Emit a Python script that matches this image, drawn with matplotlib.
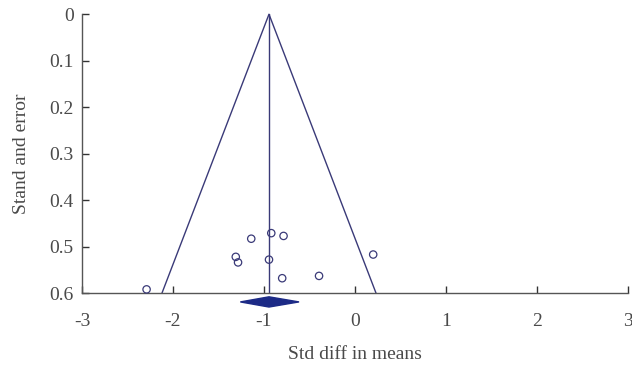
import matplotlib
matplotlib.use("Agg")
import matplotlib.pyplot as plt
from matplotlib.patches import Polygon

# --- data ---
pooled_est = -0.945          # overall std diff in means
pooled_ci = (-1.26, -0.615)  # diamond extent
se_max = 0.6

study_diff = [-2.29, -1.14, -0.92, -0.785, -1.31, -1.285, -0.945, -0.80, -0.395, 0.20]
study_se = [0.592, 0.483, 0.471, 0.477, 0.522, 0.534, 0.528, 0.568, 0.563, 0.517]

x_ticks = [-3, -2, -1, 0, 1, 2, 3]
y_ticks = [0, 0.1, 0.2, 0.3, 0.4, 0.5, 0.6]
y_ticklabels = ["0", "0.1", "0.2", "0.3", "0.4", "0.5", "0.6"]

LINE = "#3a3a78"
TEXT = "#4a4a4a"

plt.rcParams["font.family"] = ["Liberation Serif", "DejaVu Serif"]
plt.rcParams["axes.unicode_minus"] = False

fig = plt.figure(figsize=(6.32, 3.65), dpi=100)
ax = fig.add_axes([0.1297, 0.197, 0.864, 0.764])

# funnel: pseudo 95% limits around the pooled estimate
half = 1.96 * se_max
ax.plot([pooled_est - half, pooled_est, pooled_est + half], [se_max, 0, se_max],
        color=LINE, lw=1.0, clip_on=False)
ax.plot([pooled_est, pooled_est], [0, se_max], color=LINE, lw=1.0)

ax.scatter(study_diff, study_se, s=28, facecolors="none", edgecolors=LINE,
           linewidths=0.9, clip_on=False, zorder=3)

# pooled diamond below the axis
dy = 0.011
yc = se_max + 0.019
diamond = Polygon([(pooled_ci[0], yc), (pooled_est, yc - dy), (pooled_ci[1], yc), (pooled_est, yc + dy)],
                  closed=True, facecolor="#1c2a86", edgecolor="#1c2a86", clip_on=False)
ax.add_patch(diamond)

ax.set_xlim(-3, 3)
ax.set_ylim(se_max, 0)

ax.set_xticks(x_ticks)
ax.set_xticklabels([str(t) for t in x_ticks])
ax.set_yticks(y_ticks)
ax.set_yticklabels(y_ticklabels)

for side in ["top", "right"]:
    ax.spines[side].set_visible(False)
for side in ["left", "bottom"]:
    ax.spines[side].set_color("#555555")
    ax.spines[side].set_linewidth(1.0)

ax.tick_params(axis="x", direction="in", length=5, width=1, color="#333333",
               labelsize=14, labelcolor=TEXT, pad=14)
ax.tick_params(axis="y", direction="in", length=5, width=1, color="#333333",
               labelsize=14, labelcolor=TEXT, pad=6)

ax.set_xlabel("Std diff in means", fontsize=14, color=TEXT, labelpad=12)
ax.set_ylabel("Stand and error", fontsize=14, color=TEXT, labelpad=14)

fig.savefig("out.png", dpi=100)
